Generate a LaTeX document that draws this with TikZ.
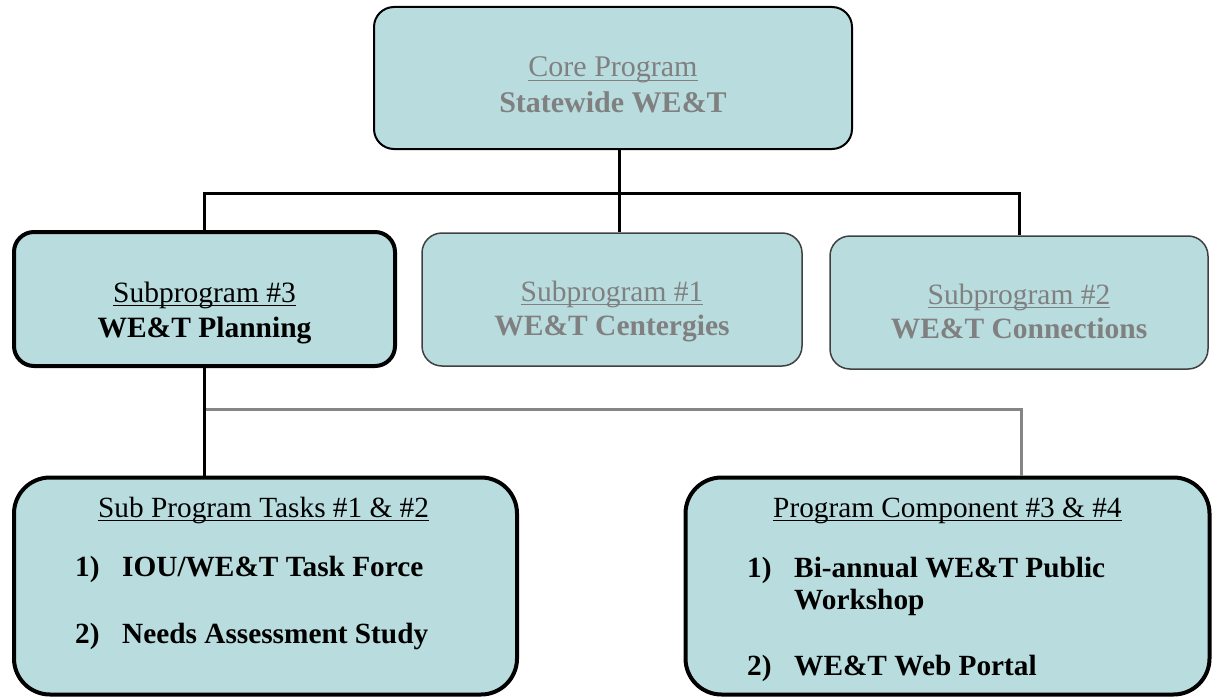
\documentclass[tikz,border=0pt]{standalone}
\usepackage{fontspec}
\setmainfont{Liberation Serif}
\definecolor{boxfill}{HTML}{B9DDDF}
\definecolor{txtgray}{HTML}{808080}
\definecolor{bordergray}{HTML}{404040}
\definecolor{linegray}{HTML}{858585}
\newcommand\ulin[1]{\setbox0\hbox{#1}\rlap{\rule[-4.2pt]{\wd0}{1.5pt}}\box0}
\begin{document}
\begin{tikzpicture}[x=1pt,y=-1pt,
  box/.style={draw, fill=boxfill, rectangle, inner sep=0pt},
  corebox/.style={box, line width=2pt, draw=black, rounded corners=20pt},
  hibox/.style={box, line width=4pt, draw=black, rounded corners=20pt},
  lobox/.style={box, line width=1.5pt, draw=bordergray, rounded corners=20pt},
  bigbox/.style={box, line width=4pt, draw=black, rounded corners=36pt},
  txt/.style={inner sep=0pt, font=\fontsize{30}{36}\selectfont},
  stxt/.style={inner sep=0pt, font=\fontsize{29.5}{36}\selectfont},
  sbtxt/.style={inner sep=0pt, font=\fontsize{29.5}{36}\selectfont\bfseries},
  ltxt/.style={inner sep=0pt, text=black, anchor=base west, font=\fontsize{29.3}{36}\selectfont},
  lbtxt/.style={inner sep=0pt, text=black, anchor=base west, font=\fontsize{29.3}{36}\selectfont\bfseries},
  conn/.style={draw=black, line width=3pt},
  gconn/.style={draw=linegray, line width=3pt}]
\useasboundingbox (0,0) rectangle (1217,698);

% boxes
\node[corebox, minimum width=478pt, minimum height=142pt] (core) at (613,78) {};
\node[hibox, minimum width=381pt, minimum height=134pt] (sub3) at (204.5,299) {};
\node[lobox, minimum width=380pt, minimum height=133pt] (sub1) at (612,299.5) {};
\node[lobox, minimum width=378pt, minimum height=133pt] (sub2) at (1019,302.5) {};
\node[bigbox, minimum width=503pt, minimum height=217pt] (bl) at (265.5,586) {};
\node[bigbox, minimum width=524pt, minimum height=217pt] (br) at (947.5,586) {};

% texts
\node[txt, text=txtgray, anchor=base] (coreA) at (613,77) {\ulin{Core Program}};
\node[txt, text=txtgray, anchor=base, font=\fontsize{30}{36}\selectfont\bfseries] (coreB) at (613,113) {Statewide WE\&T};

\node[stxt, text=black, anchor=base] (sub3A) at (204.5,302) {\ulin{Subprogram \#3}};
\node[sbtxt, text=black, anchor=base] (sub3B) at (204.5,337) {WE\&T Planning};

\node[stxt, text=txtgray, anchor=base] (sub1A) at (612,301) {\ulin{Subprogram \#1}};
\node[sbtxt, text=txtgray, anchor=base] (sub1B) at (612,335) {WE\&T Centergies};

\node[stxt, text=txtgray, anchor=base] (sub2A) at (1019,304) {\ulin{Subprogram \#2}};
\node[sbtxt, text=txtgray, anchor=base] (sub2B) at (1019,338) {WE\&T Connections};

\node[ltxt] (blA) at (98,517) {\ulin{Sub Program Tasks \#1 \& \#2}};
\node[lbtxt] (blN1) at (75,576) {1)};
\node[lbtxt] (blT1) at (122,576) {IOU/WE\&T Task Force};
\node[lbtxt] (blN2) at (75,643) {2)};
\node[lbtxt] (blT2) at (122,643) {Needs Assessment Study};

\node[ltxt] (brA) at (773,517) {\ulin{Program Component \#3 \& \#4}};
\node[lbtxt] (brN1) at (747,577) {1)};
\node[lbtxt] (brT1) at (794,577) {Bi-annual WE\&T Public};
\node[lbtxt] (brT1b) at (794,609) {Workshop};
\node[lbtxt] (brN2) at (747,675) {2)};
\node[lbtxt] (brT2) at (794,675) {WE\&T Web Portal};

% connectors
\coordinate (j) at (619,193);
\coordinate (k) at (1021,409);
\draw[gconn] (sub3.south |- k) -- (k) -- (br.north -| k);
\draw[conn] (sub3.south) -- (bl.north -| sub3.south);
\draw[conn] (sub3.north) |- (j) -| (sub2.north);
\draw[conn] (core.south -| j) -- (sub1.north -| j);
\end{tikzpicture}
\end{document}
